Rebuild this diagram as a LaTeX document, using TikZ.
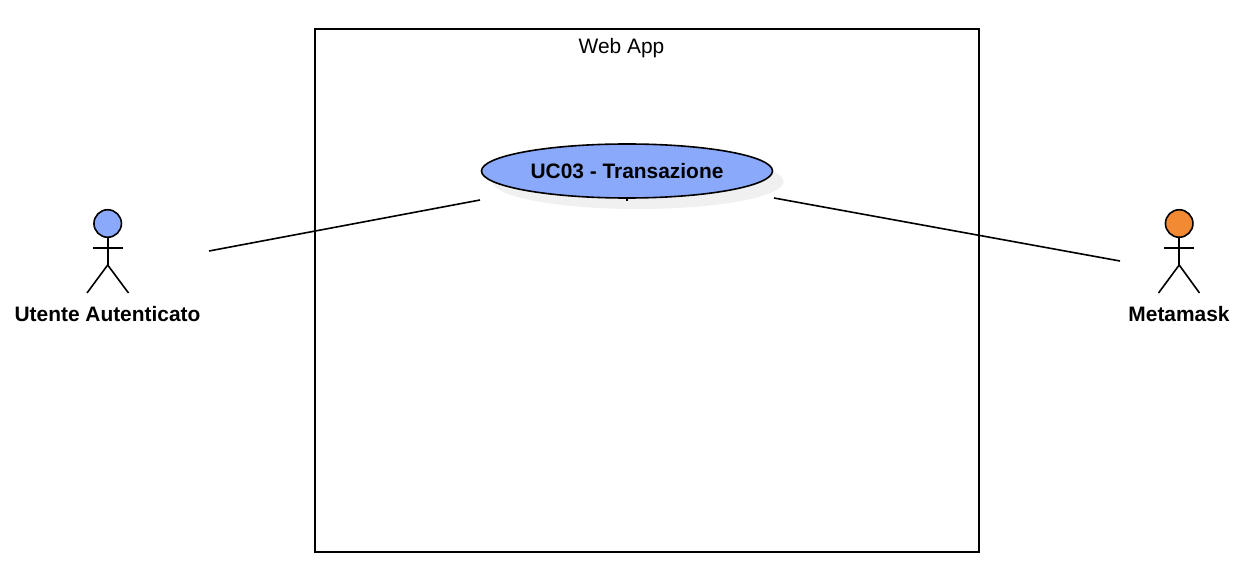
\documentclass[tikz,border=0pt]{standalone}
\usepackage{fontspec}
\setmainfont{Liberation Sans}
\usetikzlibrary{shapes.geometric}
\definecolor{ucblue}{HTML}{8AA9FA}
\definecolor{actorange}{HTML}{F28A33}
\definecolor{shadowgrey}{HTML}{F0F0F0}
\tikzset{
  ink/.style={draw=black,line width=1.6pt},
  usecase/.style={ink,ellipse,fill=ucblue,minimum width=291pt,minimum height=54pt,inner sep=0pt,font=\fontsize{20.9}{24}\selectfont\bfseries},
  usecaseshadow/.style={ellipse,fill=shadowgrey,minimum width=291pt,minimum height=55pt,inner sep=0pt},
  systembox/.style={ink,minimum width=664pt,minimum height=523pt,inner sep=0pt},
  head/.style={ink,circle,minimum size=27.5pt,inner sep=0pt},
  actorlabel/.style={font=\fontsize{20.9}{24}\selectfont\bfseries,inner sep=0pt},
  plainlabel/.style={font=\fontsize{20.9}{24}\selectfont,inner sep=0pt},
  assoc/.style={ink,line width=1.6pt}
}
\begin{document}
\begin{tikzpicture}[x=1pt,y=-1pt]
\useasboundingbox (0,0) rectangle (1250,572);
\fill[white] (0,0) rectangle (1250,572);
\node[systembox] (sys) at (647,290.5) {};
\node[plainlabel] (syslabel) at (621.5,48) {Web App};
\node[usecaseshadow] (ucshadow) at (638,181.5) {};
\node[usecase] (uc) at (627,171) {UC03 - Transazione};
\draw[line width=1.2pt] (uc.south) -- ++(0,2);
% left actor
\node[head,fill=ucblue] (heada) at (107.7,223.5) {};
\coordinate (hipa) at (107.7,265);
\coordinate (arml) at (93,248);
\coordinate (armr) at (122.5,248);
\coordinate (footal) at (87,293);
\coordinate (footar) at (128.5,293);
\draw[ink] (heada.south) -- (hipa);
\draw[ink] (arml) -- (armr);
\draw[ink] (footal) -- (hipa) -- (footar);
\node[actorlabel] (laba) at (107.5,314.5) {Utente Autenticato};
% right actor
\node[head,fill=actorange] (headb) at (1179.2,223.5) {};
\coordinate (hipb) at (1179.2,265);
\coordinate (armbl) at (1164,248);
\coordinate (armbr) at (1194,248);
\coordinate (footbl) at (1158.5,293);
\coordinate (footbr) at (1199.5,293);
\draw[ink] (headb.south) -- (hipb);
\draw[ink] (armbl) -- (armbr);
\draw[ink] (footbl) -- (hipb) -- (footbr);
\node[actorlabel] (labb) at (1179,314.5) {Metamask};
% associations
\coordinate (enda) at (209,251);
\coordinate (ucl) at (480,200);
\coordinate (ucr) at (774,198);
\coordinate (endb) at (1120,261);
\draw[assoc] (enda) -- (ucl);
\draw[assoc] (ucr) -- (endb);
\end{tikzpicture}
\end{document}
